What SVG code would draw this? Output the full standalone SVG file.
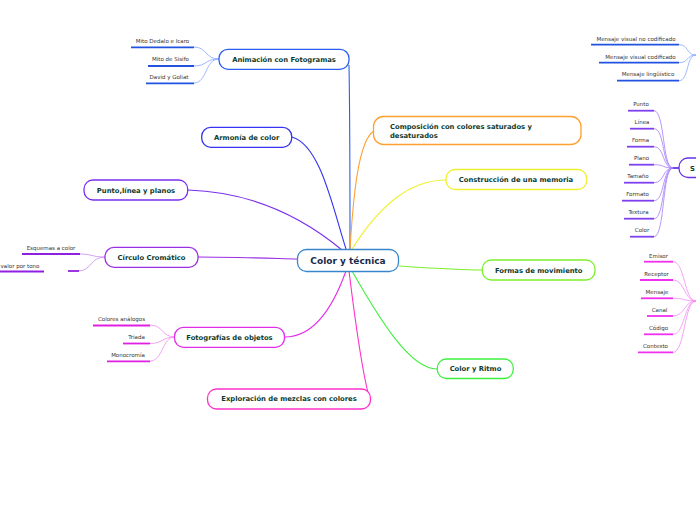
<svg xmlns="http://www.w3.org/2000/svg" width="696" height="520" viewBox="0 0 696 520">
<style>
.n{fill:#fff;stroke-width:1.3}
.t{font-family:"DejaVu Sans",Verdana,sans-serif;font-weight:bold;font-size:6.8px;fill:#0f3b2e;text-anchor:middle}
.s{font-family:"DejaVu Sans",Verdana,sans-serif;font-size:5.5px;fill:#333;text-anchor:middle}
.c{fill:none;stroke-width:1.1}
.sc{fill:none;stroke-width:0.8}
.u{stroke-width:1.8;fill:none}
</style>
<rect width="696" height="520" fill="#fff"/>
<g id="connectors">
<path class="c" stroke="#2a5ff0" d="M350,249 C350,200 350,120 349,65"/>
<path class="c" stroke="#ffa030" d="M350,249 C353,200 358,140 374,131"/>
<path class="c" stroke="#3434f2" d="M346,249 C332,205 320,145 292,137"/>
<path class="c" stroke="#7a2ff0" d="M342,250 C300,215 250,192 188,190"/>
<path class="c" stroke="#f0f030" d="M352,249 C380,205 410,180 446,180"/>
<path class="c" stroke="#9b2fe6" d="M298,259 C260,258 230,257 198,257"/>
<path class="c" stroke="#7cf02a" d="M399,266 C430,268 460,270 482,270"/>
<path class="c" stroke="#e02ee8" d="M346,271 C332,310 312,337 285,337"/>
<path class="c" stroke="#3ef03e" d="M352,271 C380,320 410,369 437,369"/>
<path class="c" stroke="#ff30c8" d="M349,271 C355,320 362,370 369,397"/>
<g stroke="#86a6ff" class="sc">
<path d="M219,59 C205,59 207,47 194,47"/>
<path d="M219,59 C205,59 207,66 194,66"/>
<path d="M219,59 C205,59 207,83 194,83"/>
</g>
<g class="u" stroke="#2252e0">
<line x1="131" y1="47.3" x2="194" y2="47.3"/>
<line x1="148" y1="66" x2="194" y2="66"/>
<line x1="146" y1="83.3" x2="194" y2="83.3"/>
</g>
<g stroke="#c98af0" class="sc">
<path d="M105,257 C92,257 92,254 80,254"/>
<path d="M105,257 C90,257 92,271 78,271"/>
</g>
<g class="u" stroke="#9020e0">
<line x1="22" y1="254" x2="80" y2="254"/>
<line x1="0" y1="271.5" x2="44" y2="271.5"/>
<line x1="68" y1="271" x2="79" y2="271"/>
</g>
<g stroke="#f08af0" class="sc">
<path d="M175,337 C162,337 163,325 150,325"/>
<path d="M175,337 C162,337 163,343.5 150,343.5"/>
<path d="M175,337 C162,337 163,361 150,361"/>
</g>
<g class="u" stroke="#e020e0">
<line x1="93" y1="325.5" x2="150" y2="325.5"/>
<line x1="123" y1="343.5" x2="150" y2="343.5"/>
<line x1="107" y1="361.3" x2="150" y2="361.3"/>
</g>
<g stroke="#86a6ff" class="sc">
<path d="M696,55 C686,55 689,44.7 679,44.7"/>
<path d="M696,55 C686,55 689,62.7 679,62.7"/>
<path d="M696,55 C686,55 689,80.7 679,80.7"/>
</g>
<g class="u" stroke="#2252e0">
<line x1="591" y1="44.7" x2="679" y2="44.7"/>
<line x1="599" y1="62.7" x2="679" y2="62.7"/>
<line x1="617" y1="80.7" x2="679" y2="80.7"/>
</g>
<g stroke="#a47cf8" class="sc">
<path d="M673,168 C662,168 665,110.7 654,110.7"/>
<path d="M673,168 C662,168 665,128.7 654,128.7"/>
<path d="M673,168 C662,168 665,146.7 654,146.7"/>
<path d="M673,168 C662,168 665,164.7 654,164.7"/>
<path d="M673,168 C662,168 665,182.7 654,182.7"/>
<path d="M673,168 C662,168 665,200.7 654,200.7"/>
<path d="M673,168 C662,168 665,218.7 654,218.7"/>
<path d="M673,168 C662,168 665,236.7 654,236.7"/>
</g>
<line x1="673" y1="168" x2="679" y2="168" stroke="#6a30e8" stroke-width="1.8"/>
<g class="u" stroke="#8040f0">
<line x1="628" y1="110.7" x2="654" y2="110.7"/>
<line x1="630" y1="128.7" x2="654" y2="128.7"/>
<line x1="627" y1="146.7" x2="654" y2="146.7"/>
<line x1="629" y1="164.7" x2="654" y2="164.7"/>
<line x1="624" y1="182.7" x2="654" y2="182.7"/>
<line x1="622" y1="200.7" x2="654" y2="200.7"/>
<line x1="624" y1="218.7" x2="654" y2="218.7"/>
<line x1="630" y1="236.7" x2="654" y2="236.7"/>
</g>
<g stroke="#f48cf4" class="sc">
<path d="M696,301 C684,301 685,261.7 673,261.7"/>
<path d="M696,301 C684,301 685,280 673,280"/>
<path d="M696,301 C684,301 685,298.3 673,298.3"/>
<path d="M696,301 C684,301 685,316 673,316"/>
<path d="M696,301 C684,301 685,334.3 673,334.3"/>
<path d="M696,301 C684,301 685,352.3 673,352.3"/>
</g>
<g class="u" stroke="#f030f0">
<line x1="644" y1="261.7" x2="673" y2="261.7"/>
<line x1="640" y1="280" x2="673" y2="280"/>
<line x1="641" y1="298.3" x2="673" y2="298.3"/>
<line x1="647" y1="316" x2="673" y2="316"/>
<line x1="644" y1="334.3" x2="673" y2="334.3"/>
<line x1="638" y1="352.3" x2="673" y2="352.3"/>
</g>
</g>
<g id="center">
<rect class="n" x="297.5" y="249.5" width="101" height="22" rx="9" stroke="#3a86cc"/>
<text class="t" x="348" y="264" style="font-size:9px;fill:#1b2a4a">Color y técnica</text>
</g>
<g id="animacion">
<rect class="n" x="219" y="49.3" width="130" height="20" rx="9" stroke="#2a5ff0"/>
<text class="t" x="284" y="61.8">Animación con Fotogramas</text>
<text class="s" x="162.5" y="42.6">Mito Dedalo e Icaro</text>
<text class="s" x="170.5" y="60.9">Mito de Sisifo</text>
<text class="s" x="169" y="78.6">David y Goliat</text>
</g>
<g id="armonia">
<rect class="n" x="201.7" y="127.3" width="90" height="20" rx="9" stroke="#3434f2"/>
<text class="t" x="246.7" y="139.8">Armonía de color</text>
</g>
<g id="punto">
<rect class="n" x="84" y="180" width="103.7" height="20" rx="9" stroke="#7a2ff0"/>
<text class="t" x="136" y="192.5">Punto,línea y planos</text>
</g>
<g id="circulo">
<rect class="n" x="105" y="247.3" width="93" height="20" rx="9" stroke="#9b2fe6"/>
<text class="t" x="151.5" y="259.8">Círculo Cromático</text>
<text class="s" x="51" y="249.6">Esquemas a color</text>
<text class="s" x="20" y="267.9">valor por tono</text>
</g>
<g id="fotografias">
<rect class="n" x="174.5" y="327.3" width="110" height="20" rx="9" stroke="#e02ee8"/>
<text class="t" x="229.5" y="339.8">Fotografías de objetos</text>
<text class="s" x="121.5" y="320.9">Colores análogos</text>
<text class="s" x="136.5" y="338.9">Triada</text>
<text class="s" x="128" y="356.9">Monocromía</text>
</g>
<g id="exploracion">
<rect class="n" x="207.5" y="389" width="163" height="20" rx="9" stroke="#ff30c8"/>
<text class="t" x="289" y="401.3">Exploración de mezclas con colores</text>
</g>
<g id="composicion">
<rect class="n" x="373.5" y="116.5" width="207.5" height="28" rx="10" stroke="#ffa030"/>
<text class="t" x="390" y="128.6" style="text-anchor:start">Composición con colores saturados y</text>
<text class="t" x="390" y="137.6" style="text-anchor:start">desaturados</text>
</g>
<g id="construccion">
<rect class="n" x="446" y="169.5" width="140.7" height="20" rx="9" stroke="#f0f030"/>
<text class="t" x="516" y="182">Construcción de una memoria</text>
</g>
<g id="formas">
<rect class="n" x="482.3" y="260" width="112.7" height="20" rx="9" stroke="#7cf02a"/>
<text class="t" x="538.7" y="272.5">Formas de movimiento</text>
</g>
<g id="ritmo">
<rect class="n" x="437.3" y="359" width="76" height="19.5" rx="9" stroke="#3ef03e"/>
<text class="t" x="475.5" y="371.4">Color y Ritmo</text>
</g>
<g id="mensajes">
<text class="s" x="636" y="40.8">Mensaje visual no codificado</text>
<text class="s" x="640.5" y="58.6">Mensaje visual codificado</text>
<text class="s" x="648" y="76.3">Mensaje lingüístico</text>
</g>
<g id="s-node">
<rect class="n" x="679" y="158" width="40" height="19.5" rx="9" stroke="#6a30e8"/>
<text class="t" x="692.5" y="170.6">S</text>
<text class="s" x="641" y="105.9">Punto</text>
<text class="s" x="642" y="123.9">Línea</text>
<text class="s" x="640.5" y="141.9">Forma</text>
<text class="s" x="641.5" y="159.9">Plano</text>
<text class="s" x="638" y="177.9">Tamaño</text>
<text class="s" x="637.5" y="195.9">Formato</text>
<text class="s" x="638.5" y="213.9">Textura</text>
<text class="s" x="642" y="231.9">Color</text>
</g>
<g id="emisor">
<text class="s" x="658.5" y="257.6">Emisor</text>
<text class="s" x="656.5" y="275.6">Receptor</text>
<text class="s" x="657" y="293.6">Mensaje</text>
<text class="s" x="659.5" y="311.6">Canal</text>
<text class="s" x="658.5" y="329.6">Código</text>
<text class="s" x="655.5" y="347.6">Contexto</text>
</g>
</svg>
